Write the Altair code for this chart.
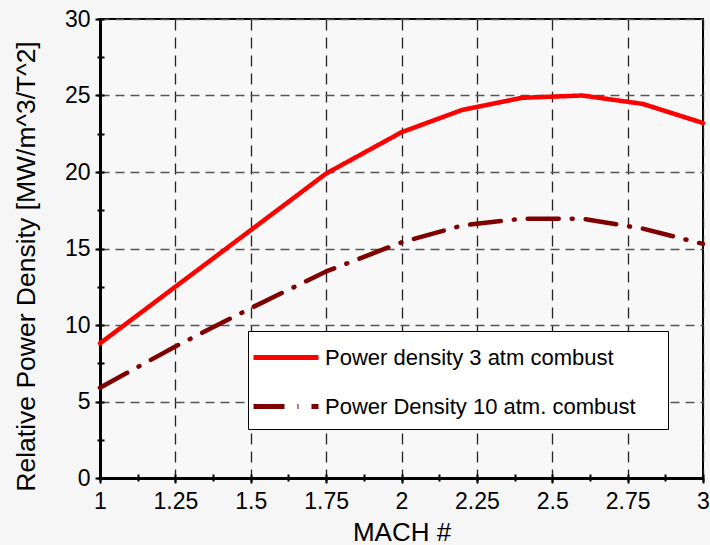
import altair as alt
import pandas as pd

# Data
mach = [1.0, 1.25, 1.5, 1.75, 2.0, 2.2, 2.4, 2.6, 2.8, 3.0]
p3 = [8.8, 12.5, 16.2, 19.9, 22.6, 24.05, 24.85, 25.0, 24.45, 23.2]
p10 = [5.9, 8.6, 11.1, 13.5, 15.4, 16.5, 16.95, 16.95, 16.3, 15.3]
series_names = ["Power density 3 atm combust", "Power Density 10 atm. combust"]

x_major = [1, 1.25, 1.5, 1.75, 2, 2.25, 2.5, 2.75, 3]
x_all = [1, 1.125, 1.25, 1.375, 1.5, 1.625, 1.75, 1.875, 2, 2.125, 2.25, 2.375, 2.5, 2.625, 2.75, 2.875, 3]
y_major = [0, 5, 10, 15, 20, 25, 30]
y_all = [0, 2.5, 5, 7.5, 10, 12.5, 15, 17.5, 20, 22.5, 25, 27.5, 30]

rows = []
for m, a, b in zip(mach, p3, p10):
    rows.append({"mach": m, "val": a, "series": series_names[0]})
    rows.append({"mach": m, "val": b, "series": series_names[1]})
df = pd.DataFrame(rows)

FONT = "Liberation Sans"
xscale = alt.Scale(domain=[1, 3], nice=False, zero=False)
yscale = alt.Scale(domain=[0, 30], nice=False)

legend = alt.Legend(
    title=" ", titleOrient="right", titlePadding=21, titleFontSize=10,
    orient="none", legendX=148, legendY=312,
    padding=11, strokeColor="black", fillColor="white",
    symbolType="M -1 0 H 4", symbolSize=676, symbolStrokeWidth=5, symbolOffset=-8,
    labelFont=FONT, labelFontSize=22, labelColor="black",
    labelOffset=43, rowPadding=22, labelLimit=500,
)

lines = alt.Chart(df).mark_line(strokeWidth=4.5, strokeCap="round", strokeJoin="round").encode(
    x=alt.X("mach:Q", scale=xscale, axis=alt.Axis(
        values=x_major, title="MACH #", grid=True, gridDash=[11, 7], gridColor="#222222",
        gridWidth=1.3, tickSize=5, tickWidth=2, tickColor="black", orient="bottom",
        labelFontSize=23, labelFont=FONT, labelColor="black", labelPadding=7,
        labelExpr="format(datum.value, '')",
        titleFont=FONT, titleFontSize=26, titleFontWeight="normal", titleColor="black",
        titlePadding=6, domainWidth=3, domainColor="black", labelFlush=False)),
    y=alt.Y("val:Q", scale=yscale, axis=alt.Axis(
        values=y_major, title="Relative Power Density [MW/m^3/T^2]", grid=True,
        gridDash=[9, 6], gridColor="#555555", gridWidth=1.3, orient="left",
        tickSize=5, tickWidth=2, tickColor="black",
        labelFontSize=23, labelFont=FONT, labelColor="black", labelPadding=5,
        titleFont=FONT, titleFontSize=26.5, titleFontWeight="normal", titleColor="black",
        titlePadding=24, titleY=247, domainWidth=3, domainColor="black", labelFlush=False)),
    color=alt.Color("series:N", scale=alt.Scale(domain=series_names, range=["#ff0000", "#7f0000"]), legend=legend),
    strokeDash=alt.StrokeDash("series:N", scale=alt.Scale(domain=series_names, range=[[1, 0], [31, 13, 1, 13]]), legend=legend),
)

# tick marks that cross the axis lines (inner part of major ticks and the minor ticks)
minor = alt.Chart(df).mark_point(opacity=0).encode(
    x=alt.X("mach:Q", scale=xscale, axis=alt.Axis(
        values=x_all, title=None, labels=False, grid=False, domain=False, orient="bottom",
        offset=-4, tickSize=7, tickWidth=2, tickColor="black")),
    y=alt.Y("val:Q", scale=yscale, axis=alt.Axis(
        values=y_all, title=None, labels=False, grid=False, domain=False, orient="left",
        offset=-4, tickSize=7, tickWidth=2, tickColor="black")),
)

chart = alt.layer(lines, minor).resolve_axis(x="independent", y="independent").properties(
    width=603, height=459,
    autosize=alt.AutoSizeParams(type="none"),
    padding={"left": 100, "top": 19, "right": 7, "bottom": 67},
    background="#f6f6f6",
).configure_view(stroke="black", strokeWidth=2, fill="#f8f8f8")

chart.save("out.html", embed_options={"renderer": "svg", "actions": False})
